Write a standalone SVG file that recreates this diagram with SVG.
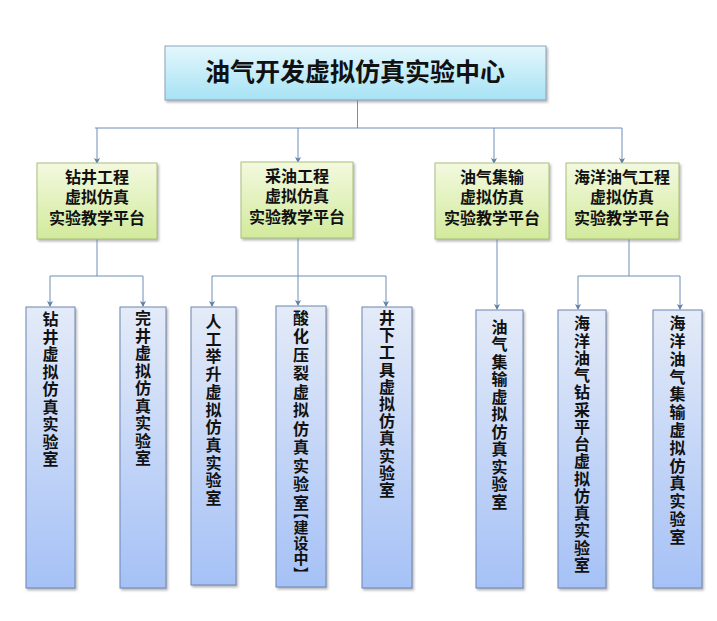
<svg xmlns="http://www.w3.org/2000/svg" width="717" height="621" viewBox="0 0 717 621">
<defs>
<linearGradient id="gTop" x1="0" y1="0" x2="0" y2="1"><stop offset="0" stop-color="#e4f7fc"/><stop offset="1" stop-color="#a6e2f4"/></linearGradient>
<linearGradient id="gMid" x1="0" y1="0" x2="0" y2="1"><stop offset="0" stop-color="#f3f9df"/><stop offset="1" stop-color="#d2ea9c"/></linearGradient>
<linearGradient id="gLow" x1="0" y1="0" x2="0" y2="1"><stop offset="0" stop-color="#e4ebf8"/><stop offset="1" stop-color="#a5c1f6"/></linearGradient>
<filter id="sh" x="-10%" y="-10%" width="130%" height="130%"><feDropShadow dx="1.5" dy="2" stdDeviation="1.2" flood-color="#808080" flood-opacity="0.55"/></filter>
<marker id="arr" markerWidth="6" markerHeight="6" refX="5" refY="3" orient="auto" markerUnits="userSpaceOnUse"><path d="M0,0 L6,3 L0,6 L1.5,3 Z" fill="#5f7ea8"/></marker>
<style>
.top{fill:url(#gTop);stroke:#8da3b9;stroke-width:1;filter:url(#sh)}
.mid{fill:url(#gMid);stroke:#a9bf7c;stroke-width:1;filter:url(#sh)}
.low{fill:url(#gLow);stroke:#6d86b0;stroke-width:1;filter:url(#sh)}
.t{font-family:"Noto Sans CJK SC","Noto Sans CJK JP",sans-serif;font-weight:bold;fill:#111;text-anchor:middle}
.tt{font-size:25px}
.tm{font-size:16px}
.tl{font-size:16px}
.ts{font-size:15px}
.br{font-size:15px;dominant-baseline:central}
.c{fill:none;stroke:#6f8db5;stroke-width:1}
.a{fill:none;stroke:#6f8db5;stroke-width:1;marker-end:url(#arr)}
</style>
</defs>
<rect width="717" height="621" fill="#ffffff"/>
<g id="connectors">
<path class="c" d="M357.5,100 V128 M95,128 H622"/>
<path class="a" d="M97,128 V163"/>
<path class="a" d="M298,128 V162"/>
<path class="a" d="M494,128 V163"/>
<path class="a" d="M622,128 V163"/>
<path class="c" d="M97,239 V276 M50,276 H143"/>
<path class="a" d="M50,276 V306"/>
<path class="a" d="M143,276 V306"/>
<path class="c" d="M298,238 V276 M212,276 H386"/>
<path class="a" d="M212,276 V306"/>
<path class="a" d="M298,276 V305"/>
<path class="a" d="M386,276 V306"/>
<path class="a" d="M497,239 V309"/>
<path class="c" d="M629,239 V276 M578,276 H680"/>
<path class="a" d="M578,276 V309"/>
<path class="a" d="M680,276 V309"/>
</g>
<g id="root">
<rect class="top" x="165" y="46" width="381" height="54"/>
<text class="t tt" x="355" y="81">油气开发虚拟仿真实验中心</text>
</g>
<g id="p1">
<rect class="mid" x="37" y="163" width="120" height="76"/>
<text class="t tm"><tspan x="97" y="183">钻井工程</tspan><tspan x="97" y="203">虚拟仿真</tspan><tspan x="97" y="224">实验教学平台</tspan></text>
</g>
<g id="p2">
<rect class="mid" x="241" y="162" width="112" height="76"/>
<text class="t tm"><tspan x="297" y="182">采油工程</tspan><tspan x="297" y="202">虚拟仿真</tspan><tspan x="297" y="223">实验教学平台</tspan></text>
</g>
<g id="p3">
<rect class="mid" x="435" y="163" width="114" height="76"/>
<text class="t tm"><tspan x="492" y="183">油气集输</tspan><tspan x="492" y="203">虚拟仿真</tspan><tspan x="492" y="224">实验教学平台</tspan></text>
</g>
<g id="p4">
<rect class="mid" x="566" y="163" width="113" height="76"/>
<text class="t tm"><tspan x="622" y="183">海洋油气工程</tspan><tspan x="622" y="203">虚拟仿真</tspan><tspan x="622" y="224">实验教学平台</tspan></text>
</g>
<g id="l1">
<rect class="low" x="26" y="307" width="49" height="281"/>
<text class="t tl" x="50.5 50.5 50.5 50.5 50.5 50.5 50.5 50.5 50.5" y="325 342.5 360 377.5 395 412.5 430 447.5 465">钻井虚拟仿真实验室</text>
</g>
<g id="l2">
<rect class="low" x="120" y="307" width="46" height="281"/>
<text class="t tl" x="143 143 143 143 143 143 143 143 143" y="324 341.5 359 376.5 394 411.5 429 446.5 464">完井虚拟仿真实验室</text>
</g>
<g id="l3">
<rect class="low" x="191" y="307" width="45" height="278"/>
<text class="t tl" x="213.5 213.5 213.5 213.5 213.5 213.5 213.5 213.5 213.5 213.5 213.5" y="327 344.7 362.4 380.1 397.8 415.5 433.2 450.9 468.6 486.3 504">人工举升虚拟仿真实验室</text>
</g>
<g id="l4">
<rect class="low" x="276" y="306" width="50" height="281"/>
<text class="t tl" x="301 301 301 301 301 301 301 301 301 301 301" y="323.5 342 360.5 379 397.5 416 434.5 453 471.5 490 508.5">酸化压裂虚拟仿真实验室</text>
<text class="t br" transform="translate(301,512) rotate(90)" x="0" y="0">【</text>
<text class="t ts" x="301 301 301" y="533 548.5 564">建设中</text>
<text class="t br" transform="translate(301,574) rotate(90)" x="0" y="0">】</text>
</g>
<g id="l5">
<rect class="low" x="362" y="307" width="50" height="281"/>
<text class="t tl" x="387 387 387 387 387 387 387 387 387 387 387" y="324 341.2 358.4 375.6 392.8 410 427.2 444.4 461.6 478.8 496">井下工具虚拟仿真实验室</text>
</g>
<g id="l6">
<rect class="low" x="476" y="310" width="47" height="278"/>
<text class="t tl" x="499.5 499.5 499.5 499.5 499.5 499.5 499.5 499.5 499.5 499.5 499.5" y="332.7 350.2 367.7 385.2 402.7 420.2 437.7 455.2 472.7 490.2 507.7">油气集输虚拟仿真实验室</text>
</g>
<g id="l7">
<rect class="low" x="558" y="310" width="48" height="278"/>
<text class="t tl" x="582 582 582 582 582 582 582 582 582 582 582 582 582 582 582" y="329.3 346.6 363.8 381.1 398.3 415.6 432.9 450.1 467.4 484.6 501.9 519.2 536.4 553.7 571">海洋油气钻采平台虚拟仿真实验室</text>
</g>
<g id="l8">
<rect class="low" x="653" y="310" width="49" height="278"/>
<text class="t tl" x="677.5 677.5 677.5 677.5 677.5 677.5 677.5 677.5 677.5 677.5 677.5 677.5 677.5" y="329.3 347.1 364.9 382.6 400.4 418.2 436 453.7 471.5 489.3 507.1 524.8 542.6">海洋油气集输虚拟仿真实验室</text>
</g>
</svg>
